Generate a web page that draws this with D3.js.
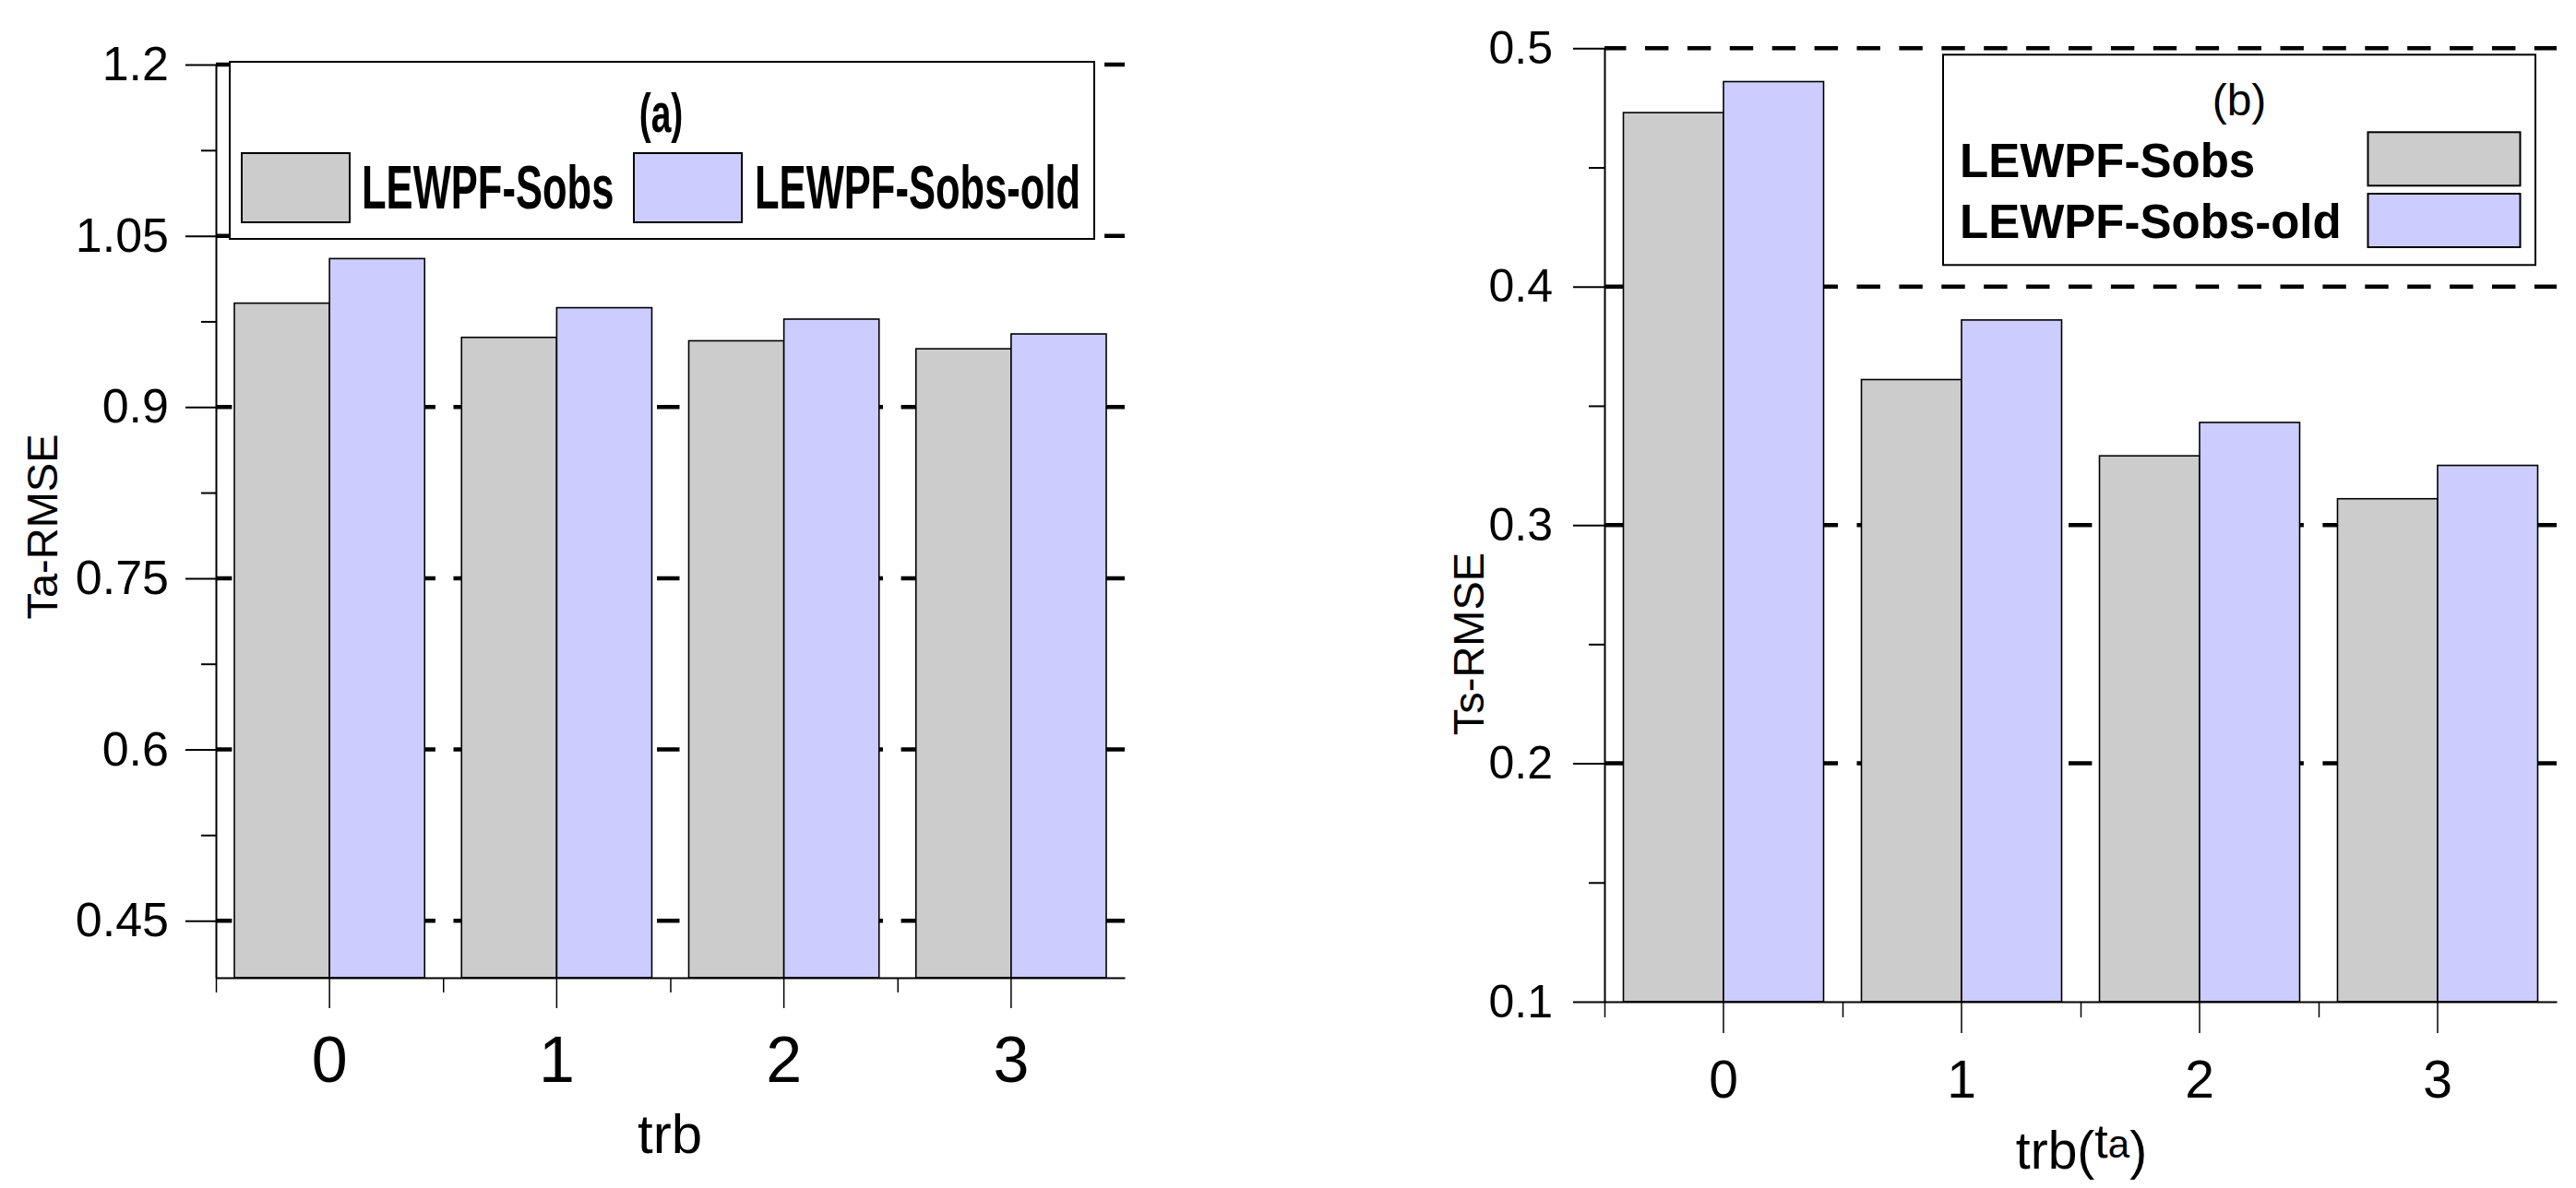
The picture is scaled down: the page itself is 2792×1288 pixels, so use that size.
<!DOCTYPE html>
<html>
<head>
<meta charset="utf-8">
<script src="https://cdn.jsdelivr.net/npm/d3@7"></script>
<style>
  html, body { margin: 0; padding: 0; background: #fff; }
  svg { display: block; font-family: "Liberation Sans", Arial, sans-serif; }
</style>
</head>
<body>
<svg id="chart" width="2792" height="1288"></svg>
<script>
// ---------------- data ----------------
const categories = ["0", "1", "2", "3"];
const seriesNames = ["LEWPF-Sobs", "LEWPF-Sobs-old"];
const seriesColors = ["#cccccc", "#ccccff"];

// panel (a): Ta-RMSE
const taSobs    = [0.991, 0.961, 0.958, 0.951];
const taSobsOld = [1.030, 0.987, 0.977, 0.964];
const taMajorTicks = [0.45, 0.6, 0.75, 0.9, 1.05, 1.2];
const taMinorTicks = [0.525, 0.675, 0.825, 0.975, 1.125];

// panel (b): Ts-RMSE
const tsSobs    = [0.473, 0.361, 0.329, 0.311];
const tsSobsOld = [0.486, 0.386, 0.343, 0.325];
const tsMajorTicks = [0.1, 0.2, 0.3, 0.4, 0.5];
const tsMinorTicks = [0.15, 0.25, 0.35, 0.45];

const svg = d3.select("#chart");
svg.append("rect").attr("width", 2792).attr("height", 1288).attr("fill", "#fff");

function panel(cfg) {
  const g = svg.append("g");
  const x0 = d3.scaleBand().domain(categories).range([cfg.left, cfg.right]);
  const x1 = d3.scaleBand().domain(seriesNames)
    .range([cfg.groupPad, x0.bandwidth() - cfg.groupPad]);
  const y = d3.scaleLinear().domain(cfg.yDomain).range([cfg.bottom, cfg.top]);
  const edge = d3.scaleLinear().domain([0, categories.length]).range([cfg.left, cfg.right]);

  // dashed grid lines
  g.append("g").selectAll("line").data(cfg.majors.filter(v => v > cfg.yDomain[0]))
    .join("line")
    .attr("x1", cfg.left).attr("x2", cfg.right)
    .attr("y1", d => y(d)).attr("y2", d => y(d))
    .attr("stroke", "#000").attr("stroke-width", 4.5)
    .attr("stroke-dasharray", cfg.dash).attr("stroke-dashoffset", cfg.dashOffset);

  // bars
  const rows = categories.map((c, i) => ({ c, vals: cfg.series.map((s, k) => ({ k, v: s[i] })) }));
  g.append("g").selectAll("g").data(rows).join("g")
    .attr("transform", d => `translate(${x0(d.c)},0)`)
    .selectAll("rect").data(d => d.vals).join("rect")
    .attr("x", d => x1(seriesNames[d.k]))
    .attr("width", x1.bandwidth())
    .attr("y", d => y(d.v))
    .attr("height", d => y(cfg.yDomain[0]) - y(d.v))
    .attr("fill", d => seriesColors[d.k])
    .attr("stroke", "#000").attr("stroke-width", 1.6);

  // y axis major
  const yAx = g.append("g").attr("transform", `translate(${cfg.left},0)`)
    .call(d3.axisLeft(y).tickValues(cfg.majors).tickSize(cfg.majorLen)
      .tickSizeOuter(0).tickPadding(cfg.yLabelPad).tickFormat(d => String(d)));
  yAx.select(".domain").attr("stroke-width", 2);
  yAx.selectAll(".tick line").attr("stroke-width", 2);
  yAx.selectAll(".tick text").attr("font-size", cfg.yFont).attr("fill", "#000")
    .attr("font-family", "Liberation Sans, Arial, sans-serif");
  // y axis minor
  const yMin = g.append("g").attr("transform", `translate(${cfg.left},0)`)
    .call(d3.axisLeft(y).tickValues(cfg.minors).tickSize(cfg.minorLen).tickSizeOuter(0).tickFormat(""));
  yMin.select(".domain").remove();
  yMin.selectAll(".tick line").attr("stroke-width", 2);

  // x axis major
  const xAx = g.append("g").attr("transform", `translate(0,${cfg.bottom})`)
    .call(d3.axisBottom(x0).tickSize(cfg.majorLen).tickSizeOuter(0));
  xAx.select(".domain").attr("stroke-width", 2);
  xAx.selectAll(".tick line").attr("stroke-width", 1.5);
  xAx.selectAll(".tick text").attr("font-size", cfg.xFont).attr("fill", "#000")
    .attr("y", cfg.xLabelBase).attr("dy", null)
    .attr("font-family", "Liberation Sans, Arial, sans-serif");
  // x axis minor (band edges)
  const xMin = g.append("g").attr("transform", `translate(0,${cfg.bottom})`)
    .call(d3.axisBottom(edge).tickValues(d3.range(categories.length)).tickSize(cfg.minorLen).tickSizeOuter(0).tickFormat(""));
  xMin.select(".domain").remove();
  xMin.selectAll(".tick line").attr("stroke-width", 1.5);

  return { g, x0, y };
}

// ---------------- panel (a) ----------------
const A = panel({
  left: 234, right: 1219, top: 70, bottom: 1060,
  yDomain: [0.4, 1.2], groupPad: 20,
  series: [taSobs, taSobsOld],
  majors: taMajorTicks, minors: taMinorTicks,
  majorLen: 33, minorLen: 16, yLabelPad: 18, yFont: 52,
  xFont: 70, xLabelBase: 113,
  dash: "24.5 19.6", dashOffset: 7.1
});
svg.append("text").attr("transform", "translate(62,571) rotate(-90)")
  .attr("text-anchor", "middle").attr("font-size", 47).text("Ta-RMSE");
svg.append("text").attr("x", 726).attr("y", 1250)
  .attr("text-anchor", "middle").attr("font-size", 60).text("trb");

// legend (a)
const legA = svg.append("g");
legA.append("rect").attr("x", 249).attr("y", 67).attr("width", 937).attr("height", 192)
  .attr("fill", "#fff").attr("stroke", "#000").attr("stroke-width", 2);
legA.append("text").attr("transform", "translate(716.5,143) scale(0.65,1)")
  .attr("text-anchor", "middle").attr("font-size", 60).attr("font-weight", "bold").text("(a)");
const legAItems = [
  { sx: 262, tx: 392 },
  { sx: 687, tx: 818 }
];
legAItems.forEach((it, k) => {
  legA.append("rect").attr("x", it.sx).attr("y", 166).attr("width", 117).attr("height", 75)
    .attr("fill", seriesColors[k]).attr("stroke", "#000").attr("stroke-width", 2);
  legA.append("text").attr("transform", `translate(${it.tx},226) scale(0.65,1)`)
    .attr("font-size", 67).attr("font-weight", "bold").text(seriesNames[k]);
});

// ---------------- panel (b) ----------------
const B = panel({
  left: 1739, right: 2771, top: 52.3, bottom: 1086,
  yDomain: [0.1, 0.5], groupPad: 20.5,
  series: [tsSobs, tsSobsOld],
  majors: tsMajorTicks, minors: tsMinorTicks,
  majorLen: 34, minorLen: 17, yLabelPad: 22, yFont: 50,
  xFont: 57, xLabelBase: 104,
  dash: "25.4 20.5", dashOffset: 1.9
});
svg.append("text").attr("transform", "translate(1608,698) rotate(-90)")
  .attr("text-anchor", "middle").attr("font-size", 47).text("Ts-RMSE");
const xtB = svg.append("text").attr("x", 2256).attr("y", 1267)
  .attr("text-anchor", "middle").attr("font-size", 57);
xtB.append("tspan").text("trb(");
xtB.append("tspan").attr("font-size", 52).attr("dy", -12).text("t");
xtB.append("tspan").attr("font-size", 42).text("a");
xtB.append("tspan").attr("dy", 12).text(")");

// legend (b)
const legB = svg.append("g");
legB.append("rect").attr("x", 2106).attr("y", 59.3).attr("width", 642).attr("height", 228)
  .attr("fill", "#fff").attr("stroke", "#000").attr("stroke-width", 2);
legB.append("text").attr("x", 2427).attr("y", 125).attr("text-anchor", "middle")
  .attr("font-size", 48).text("(b)");
const legBRows = [
  { base: 191.7, sy: 143.3 },
  { base: 258.3, sy: 210 }
];
legBRows.forEach((r, k) => {
  legB.append("text").attr("x", 2124).attr("y", r.base)
    .attr("font-size", 51).attr("font-weight", "bold").text(seriesNames[k]);
  legB.append("rect").attr("x", 2566.5).attr("y", r.sy).attr("width", 165).attr("height", 58)
    .attr("fill", seriesColors[k]).attr("stroke", "#000").attr("stroke-width", 2);
});
</script>
</body>
</html>
